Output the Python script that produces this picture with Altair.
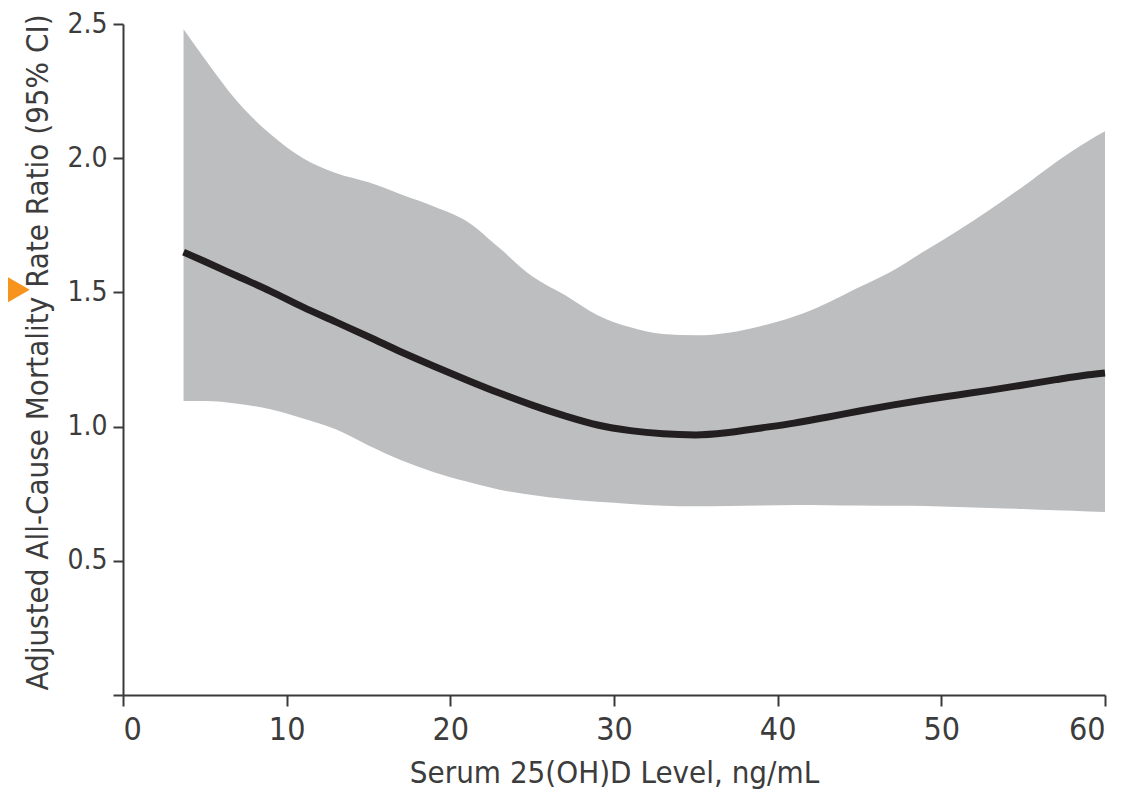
import altair as alt
import pandas as pd

# ---- data ----
x_vals = [3.7, 5, 7, 9, 11, 13, 15, 17, 19, 21, 23, 25, 27, 29, 31, 33, 35, 37, 39,
          41, 43, 45, 47, 49, 51, 53, 55, 57, 59, 60]
upper = [2.48, 2.37, 2.21, 2.09, 2.00, 1.945, 1.91, 1.865, 1.82, 1.765, 1.665, 1.56,
         1.49, 1.415, 1.37, 1.345, 1.34, 1.35, 1.375, 1.41, 1.46, 1.52, 1.58, 1.655,
         1.73, 1.81, 1.895, 1.985, 2.065, 2.10]
lower = [1.095, 1.095, 1.085, 1.065, 1.03, 0.99, 0.93, 0.875, 0.83, 0.795, 0.765, 0.745,
         0.73, 0.72, 0.712, 0.705, 0.703, 0.704, 0.706, 0.708, 0.707, 0.706, 0.705, 0.704,
         0.70, 0.697, 0.693, 0.688, 0.684, 0.682]
ratio = [1.65, 1.615, 1.56, 1.505, 1.445, 1.39, 1.335, 1.278, 1.225, 1.174, 1.125, 1.08,
         1.04, 1.006, 0.985, 0.973, 0.969, 0.978, 0.995, 1.013, 1.035, 1.058, 1.08, 1.10,
         1.118, 1.136, 1.155, 1.175, 1.193, 1.20]
x_ticks = [0, 10, 20, 30, 40, 50, 60]
y_ticks = [0, 0.5, 1.0, 1.5, 2.0, 2.5]
marker_y = [1.51]

df = pd.DataFrame({"x": x_vals, "upper": upper, "lower": lower, "ratio": ratio})
tri = pd.DataFrame({"y": marker_y})

FONT = "Liberation Sans Narrow, DejaVu Sans Condensed, sans-serif"
AX = "#3a3a3a"
TXT = "#3c3c3c"

xscale = alt.Scale(domain=[0, 60], nice=False, zero=False)
yscale = alt.Scale(domain=[0, 2.5], nice=False)

x_axis = alt.Axis(
    values=x_ticks, title="Serum 25(OH)D Level, ng/mL", format="d",
    labelFontSize=32, labelBaseline="alphabetic", labelPadding=33,
    titleFontSize=31, titleBaseline="alphabetic", titleY=87,
)
y_axis = alt.Axis(
    values=y_ticks, title="Adjusted All-Cause Mortality Rate Ratio (95% CI)",
    labelExpr="datum.value == 0 ? '' : format(datum.value, '.1f')",
    labelFontSize=28, labelPadding=6, tickSize=10,
    titleFontSize=31, titleBaseline="alphabetic", titleX=-76, titleY=328,
    titleAngle=-90, titleAlign="center",
)

band = alt.Chart(df).mark_area(color="#bdbec0", interpolate="monotone").encode(
    x=alt.X("x:Q", scale=xscale, axis=x_axis),
    y=alt.Y("lower:Q", scale=yscale, axis=y_axis),
    y2="upper:Q",
)

line = alt.Chart(df).mark_line(color="#231f20", strokeWidth=7, interpolate="monotone").encode(
    x=alt.X("x:Q", scale=xscale),
    y=alt.Y("ratio:Q", scale=yscale),
)

marker = alt.Chart(tri).mark_point(
    shape="triangle-right", filled=True, color="#f7941d", opacity=1, size=1500
).encode(
    x=alt.value(-110),
    y=alt.Y("y:Q", scale=yscale),
)

chart = (band + line + marker).properties(
    width=982, height=671, autosize="none",
    padding={"left": 115, "top": 16, "right": 8, "bottom": 97},
).configure_view(stroke=None).configure_axis(
    grid=False, domainColor=AX, domainWidth=2, tickColor=AX, tickWidth=2, tickSize=11,
    labelFont=FONT, titleFont=FONT, labelColor=TXT, titleColor=TXT,
    titleFontWeight="normal",
)

chart.save("out.html", embed_options={"renderer": "svg", "actions": False})
